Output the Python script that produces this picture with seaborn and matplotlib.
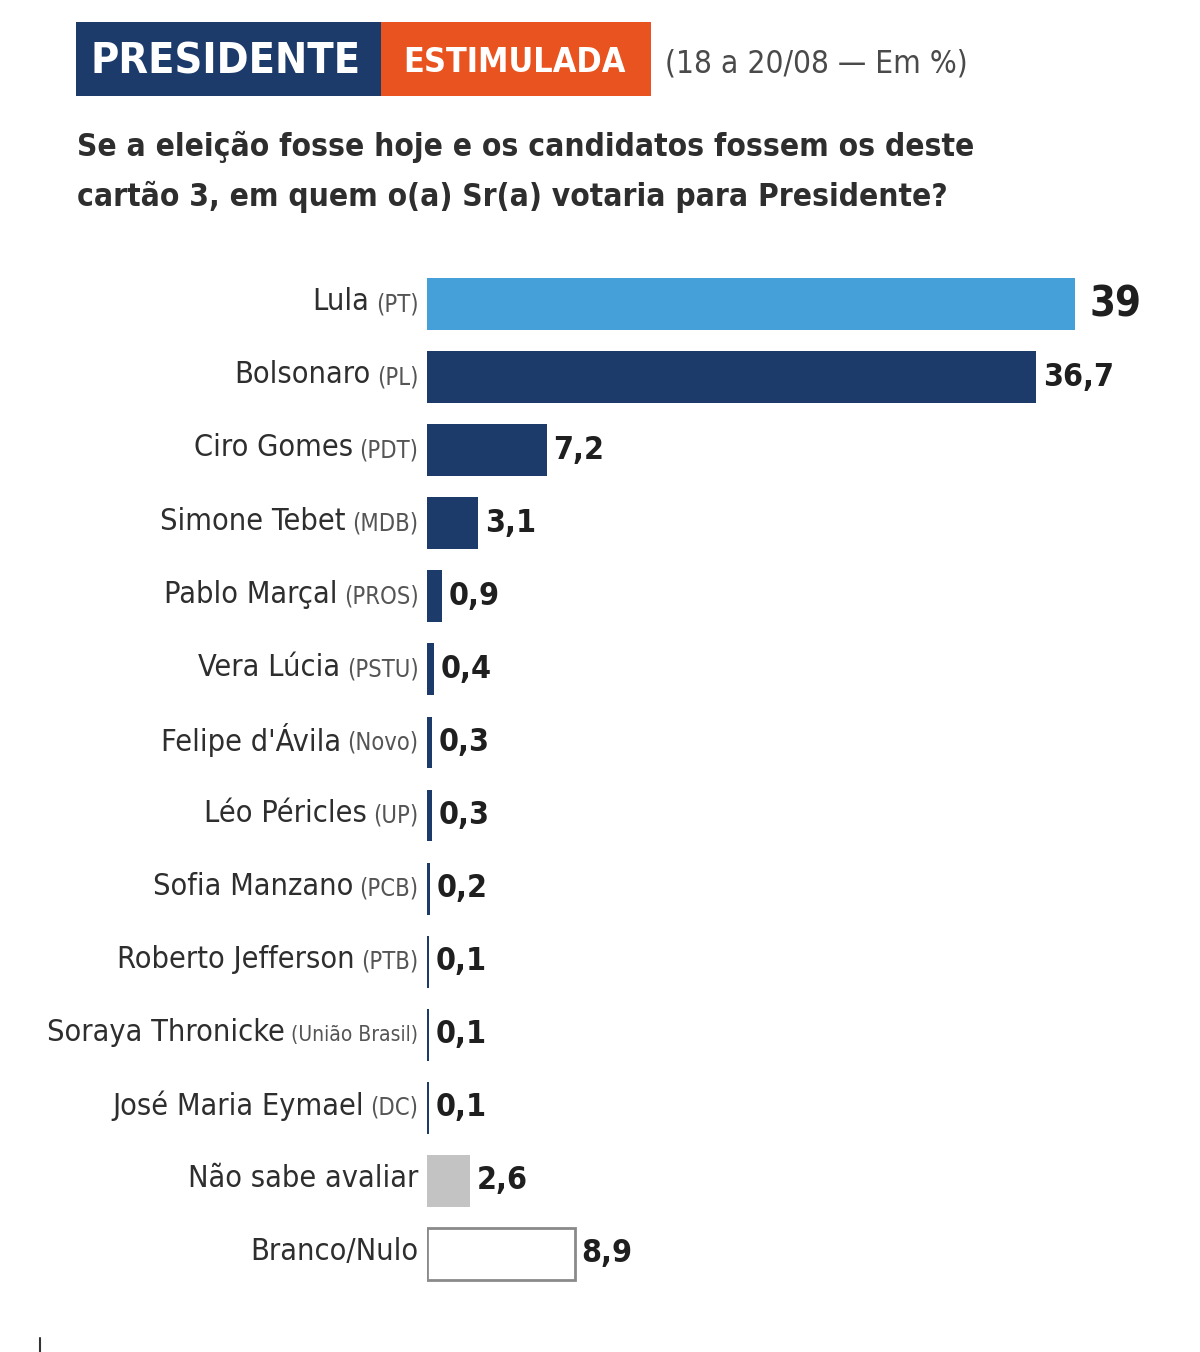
import matplotlib
matplotlib.use("Agg")
import matplotlib.pyplot as plt
import seaborn as sns
from matplotlib.patches import Rectangle
from matplotlib.lines import Line2D

# data
names = ["Lula", "Bolsonaro", "Ciro Gomes", "Simone Tebet", "Pablo Marçal",
         "Vera Lúcia", "Felipe d'Ávila", "Léo Péricles", "Sofia Manzano",
         "Roberto Jefferson", "Soraya Thronicke", "José Maria Eymael",
         "Não sabe avaliar", "Branco/Nulo"]
parties = ["(PT)", "(PL)", "(PDT)", "(MDB)", "(PROS)", "(PSTU)", "(Novo)", "(UP)",
           "(PCB)", "(PTB)", "(União Brasil)", "(DC)", "", ""]
values = [39, 36.7, 7.2, 3.1, 0.9, 0.4, 0.3, 0.3, 0.2, 0.1, 0.1, 0.1, 2.6, 8.9]
value_labels = ["39", "36,7", "7,2", "3,1", "0,9", "0,4", "0,3", "0,3", "0,2",
                "0,1", "0,1", "0,1", "2,6", "8,9"]

LIGHT_BLUE = "#45a0d9"
NAVY = "#1c3b6b"
ORANGE = "#e9531f"
colors = [LIGHT_BLUE] + [NAVY] * 11 + ["#c3c3c3", "#ffffff"]

sns.set_theme(style="white")
plt.rcParams["font.family"] = ["DejaVu Sans"]
COND = dict(family="DejaVu Sans", fontstretch="condensed")

fig = plt.figure(figsize=(12, 13.52), dpi=100)
ax = fig.add_axes([427 / 1200, 1 - 1290.5 / 1352, 714 / 1200, 1023 / 1352])

sns.barplot(x=values, y=names, hue=names, palette=colors, legend=False,
            orient="h", width=0.71, ax=ax, saturation=1, linewidth=0)
ax.set_xlim(0, 43)
ax.set_ylim(13.5, -0.5)
ax.axis("off")

# outline for Branco/Nulo
bars = ax.patches
bars[-1].set_edgecolor("#8a8a8a")
bars[-1].set_linewidth(2)

fig.canvas.draw()
renderer = fig.canvas.get_renderer()
for i, (name, party, v, lab) in enumerate(zip(names, parties, values, value_labels)):
    x_right = -0.012
    if party:
        size = 15 if party == "(União Brasil)" else 17
        t = ax.text(x_right, i, party, transform=ax.get_yaxis_transform(),
                    ha="right", va="center", fontsize=size, color="#555555", **COND)
        w = t.get_window_extent(renderer).width / ax.bbox.width
        x_right -= w + 0.009
    ax.text(x_right, i - 0.03, name, transform=ax.get_yaxis_transform(),
            ha="right", va="center", fontsize=22, color="#2e2e2e", **COND)
    ax.text(v + (0.9 if i == 0 else 0.4), i, lab, ha="left", va="center",
            fontsize=30 if i == 0 else 23, fontweight="bold", color="#1f1f1f", **COND)

# header boxes
fig.add_artist(Rectangle((76 / 1200, 1 - 96 / 1352), 305 / 1200, 74 / 1352,
                         transform=fig.transFigure, color=NAVY, lw=0))
fig.add_artist(Rectangle((381 / 1200, 1 - 96 / 1352), 270 / 1200, 74 / 1352,
                         transform=fig.transFigure, color=ORANGE, lw=0))
fig.text(226 / 1200, 1 - 62 / 1352, "PRESIDENTE", ha="center", va="center",
         fontsize=31, fontweight="bold", color="white", **COND)
fig.text(514 / 1200, 1 - 62 / 1352, "ESTIMULADA", ha="center", va="center",
         fontsize=24.5, fontweight="bold", color="white", **COND)
fig.text(665 / 1200, 1 - 64 / 1352, "(18 a 20/08 — Em %)", ha="left", va="center",
         fontsize=22.7, color="#4a4a4a", **COND)

fig.text(77 / 1200, 1 - 147 / 1352, "Se a eleição fosse hoje e os candidatos fossem os deste",
         ha="left", va="center", fontsize=22.7, fontweight="bold", color="#2e2e2e", **COND)
fig.text(77 / 1200, 1 - 197 / 1352, "cartão 3, em quem o(a) Sr(a) votaria para Presidente?",
         ha="left", va="center", fontsize=22.7, fontweight="bold", color="#2e2e2e", **COND)

# small mark at the bottom left
fig.add_artist(Line2D([40 / 1200, 40 / 1200], [0, 14 / 1352], transform=fig.transFigure,
                      color="#333333", lw=1.5))

fig.savefig("out.png", dpi=100, facecolor="white")
